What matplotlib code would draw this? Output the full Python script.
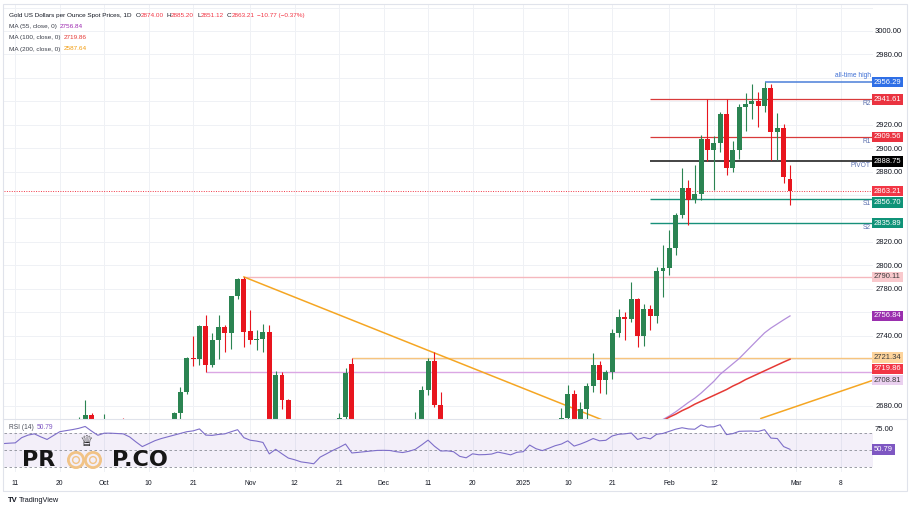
import numpy as np
import pandas as pd
import matplotlib
matplotlib.use("Agg")
import matplotlib.pyplot as plt
import matplotlib.transforms as mtransforms
from matplotlib.patches import Circle, Rectangle

plt.rcParams['font.family'] = ['Liberation Sans', 'DejaVu Sans']

W, H = 912, 513

# ---------------- data ----------------
dates = pd.bdate_range('2024-09-09', '2025-02-28')

opens = [2497, 2506, 2516, 2512, 2558, 2578, 2582, 2570, 2559, 2587, 2622, 2628, 2657, 2657, 2672, 2658,
         2634, 2662, 2657, 2656, 2653, 2643, 2622, 2608, 2630, 2657, 2649, 2662, 2674, 2692, 2721, 2720,
         2748, 2715, 2736, 2747, 2742, 2774, 2788,
         2744, 2736, 2737, 2743, 2659, 2706, 2685, 2618, 2598, 2573, 2565, 2563, 2613, 2632, 2650, 2671,
         2716, 2625, 2633, 2636, 2639,
         2643, 2640, 2643, 2650, 2631, 2633, 2660, 2694, 2718, 2681, 2648, 2652, 2646, 2586, 2594, 2622,
         2612, 2617, 2615, 2634, 2621, 2606,
         2624, 2625, 2658, 2640, 2635, 2648, 2661, 2670, 2690, 2663, 2677, 2697, 2715, 2702, 2709, 2742,
         2756, 2754, 2771, 2740, 2763, 2757, 2795,
         2798, 2815, 2843, 2866, 2856, 2861, 2908, 2898, 2904, 2929, 2883, 2898, 2935, 2938, 2940, 2936,
         2951, 2914, 2917, 2874]
highs = [2507, 2518, 2529, 2560, 2586, 2589, 2582, 2600, 2596, 2625, 2634, 2664, 2671, 2685, 2674, 2665,
         2673, 2668, 2665, 2670, 2658, 2644, 2627, 2632, 2661, 2666, 2666, 2675, 2696, 2722, 2740, 2749,
         2758, 2742, 2758, 2749, 2774, 2789, 2790.11,
         2762, 2745, 2750, 2749, 2710, 2709, 2686, 2627, 2617, 2580, 2574, 2616, 2639, 2652, 2674, 2712,
         2721.34, 2638, 2649, 2645, 2665,
         2652, 2650, 2657, 2654, 2644, 2675, 2697, 2721, 2726, 2692, 2662, 2655, 2660, 2626, 2632, 2626,
         2620, 2620, 2638, 2637, 2625, 2627,
         2628, 2664, 2666, 2650, 2663, 2665, 2678, 2698, 2694, 2683, 2700, 2725, 2718, 2711, 2746, 2763,
         2760, 2786, 2772, 2767, 2766, 2799, 2817,
         2830, 2845, 2883, 2873, 2886, 2911, 2942, 2910, 2931, 2942, 2906, 2938, 2947, 2955, 2948,
         2956.29, 2955, 2930, 2921, 2885.2]
lows = [2485, 2500, 2500, 2511, 2557, 2575, 2560, 2546, 2555, 2584, 2615, 2624, 2651, 2656, 2643, 2624,
        2625, 2644, 2643, 2635, 2632, 2605, 2603, 2604, 2627, 2640, 2636, 2654, 2668, 2690, 2714, 2715,
        2708.81, 2713, 2720, 2726, 2729, 2771, 2730,
        2733, 2728, 2726, 2652, 2644, 2677, 2610, 2590, 2572, 2536, 2560, 2561, 2606, 2622, 2642, 2664,
        2605, 2620, 2630, 2628, 2637,
        2622, 2634, 2640, 2625, 2614, 2631, 2652, 2689, 2679, 2643, 2642, 2630, 2584, 2583, 2584, 2602,
        2607, 2612, 2610, 2616, 2597, 2600,
        2620, 2624, 2636, 2615, 2632, 2645, 2656, 2664, 2656, 2660, 2665, 2692, 2691, 2690, 2703, 2739,
        2736, 2752, 2730, 2731, 2745, 2751, 2773,
        2792, 2809, 2840, 2834, 2853, 2856, 2889, 2864, 2897, 2877, 2880, 2891, 2915, 2925, 2918,
        2931, 2890, 2890, 2870, 2851.12]
closes = [2506, 2516, 2512, 2558, 2578, 2582, 2570, 2559, 2587, 2622, 2628, 2657, 2657, 2672, 2658, 2634,
          2662, 2657, 2656, 2653, 2643, 2622, 2608, 2630, 2657, 2649, 2662, 2674, 2692, 2721, 2720, 2748,
          2715, 2736, 2747, 2742, 2774, 2788, 2743,
          2736, 2737, 2743, 2659, 2706, 2685, 2618, 2598, 2573, 2565, 2563, 2613, 2632, 2650, 2670, 2708,
          2625, 2633, 2636, 2639, 2643,
          2640, 2643, 2650, 2631, 2633, 2660, 2694, 2718, 2681, 2648, 2652, 2646, 2586, 2594, 2622, 2612,
          2617, 2615, 2634, 2621, 2606, 2624,
          2625, 2658, 2640, 2635, 2648, 2661, 2670, 2690, 2663, 2677, 2697, 2715, 2702, 2709, 2742, 2756,
          2754, 2771, 2740, 2763, 2757, 2795, 2798,
          2815, 2843, 2866, 2856, 2861, 2908, 2898, 2904, 2929, 2883, 2898, 2935, 2938, 2940, 2936, 2951,
          2914, 2917, 2875, 2863.21]

rsi = [57.5, 58, 58.4, 64.5, 67.5, 69, 65.5, 62.4, 67, 71.5, 72.8, 74, 75.5, 77.7, 72.3, 67.3,
       69.8, 69.8, 69.4, 69, 65.4, 59.5, 54, 57.5, 61, 63.5, 65.5, 67.5, 69.5, 71.5, 72.5, 74.8, 67.5,
       67.2, 68.3, 69, 71.5, 73.9, 64.5,
       61.5, 60.5, 58.9, 45.4, 50.8, 45.5, 40.5, 38.5, 36, 35, 33.8, 41.6, 45.5, 49.5, 53, 57, 46.5,
       47.2, 48, 48.8, 49.5,
       49.6, 49.4, 48, 47, 48.5, 50.8, 56, 61.6, 54.5, 48.8, 49, 48, 42.5, 40.8, 45.5, 44.4, 44.6, 45.2,
       47.5, 46, 44.3, 47.3,
       48, 55.8, 51.5, 49.3, 52, 55, 57, 60.8, 54.6, 57, 60, 63.5, 60.8, 61.4, 66.5, 68.5, 69, 70, 62.4,
       64.7, 63.1, 68.5, 69.5,
       72, 74.5, 76.2, 74.8, 74.4, 79.5, 77, 77.3, 79.7, 68.1, 69.3, 72, 72.2, 72.3, 71.9, 73.9, 64,
       63.5, 54, 50.79]

ma_start = '2025-01-31'
ma55_tail = [2668.5, 2671.5, 2675, 2679, 2683, 2686.6, 2691, 2696, 2701, 2707, 2711.5, 2716, 2720.5,
             2726, 2731.5, 2737, 2742.4, 2746.5, 2750, 2753.5, 2756.84]
ma100_tail = [2667.5, 2670.5, 2673, 2676, 2678.5, 2681.5, 2684, 2686.5, 2689, 2691.5, 2694, 2697,
              2699.5, 2702.5, 2705, 2707.5, 2710, 2712.5, 2715, 2717.5, 2719.86]
ma200_last = 2587.64

tick_labels = ['11', '20', 'Oct', '10', '21', 'Nov', '12', '21', 'Dec', '11', '20', '2025', '10', '21',
               'Feb', '12']
tick_dates = ['2024-09-11', '2024-09-20', '2024-10-01', '2024-10-10', '2024-10-21', '2024-11-01',
              '2024-11-12', '2024-11-21', '2024-12-02', '2024-12-11', '2024-12-20', '2025-01-01',
              '2025-01-10', '2025-01-21', '2025-02-03', '2025-02-12']
future_tick_labels = ['Mar', '8']
future_tick_offsets = [1, 8]   # bars after the last bar

price_ticks = list(range(2680, 3021, 20))

pivot_names = ['R2', 'R1', 'PIVOT', 'S1', 'S2']
pivot_values = [2941.61, 2909.56, 2888.75, 2856.70, 2835.89]
pivot_colors = ['#d83a3a', '#d83a3a', '#111111', '#17907a', '#17907a']
pivot_start = '2025-01-29'
ath_value, ath_start = 2956.29, '2025-02-24'

hl_values = [2790.11, 2721.34, 2708.81]
hl_starts = ['2024-10-31', '2024-11-25', '2024-10-23']
hl_colors = ['#f5b8be', '#f7c47e', '#dba7e4']

trend_down_dates = ['2024-10-31', '2025-01-20']
trend_down_values = [2790.11, 2666.9]
trend_up_anchor = ('2025-02-24', 2670.4)
trend_up_far = (13, 2701.8)   # bars after last bar, price

last_close = 2863.21
header_ohlc = [('O', '2874.00'), ('H', '2885.20'), ('L', '2851.12'), ('C', '2863.21')]
header_change = '\u221210.77 (\u22120.37%)'

# ---------------- helpers ----------------
N = len(dates) - 1
def pos(d):
    return dates.get_loc(pd.Timestamp(d))

GREEN = '#2b8452'
RED = '#e8151e'
GRID = '#eff1f5'
TXT = '#131722'

fig = plt.figure(figsize=(W / 100, H / 100), dpi=100)
fig.patch.set_facecolor('white')

def fx(px): return px / W
def fy(py): return 1 - py / H

XMIN, XMAX = 0.22, 137.07
ax = fig.add_axes([fx(4), fy(418.5), fx(873) - fx(4), fy(4) - fy(418.5)])
axr = fig.add_axes([fx(4), fy(472), fx(873) - fx(4), fy(420) - fy(472)])

tick_pos = [pos(d) for d in tick_dates] + [N + o for o in future_tick_offsets]
all_tick_labels = tick_labels + future_tick_labels

# right-side price labels (computed first so covered tick labels can be dropped)
labels = [(ath_value, '#2f6fe6', 'white'),
          (pivot_values[0], '#ea3340', 'white'),
          (pivot_values[1], '#ea3340', 'white'),
          (pivot_values[2], '#000000', 'white'),
          (last_close, '#f23645', 'white'),
          (pivot_values[3], '#0f9378', 'white'),
          (pivot_values[4], '#0f9378', 'white'),
          (hl_values[0], '#f9c9cd', '#3a3a3a'),
          (ma55_tail[-1], '#9a2fae', 'white'),
          (hl_values[1], '#fdd49c', '#3a3a3a'),
          (ma100_tail[-1], '#f23645', 'white'),
          (hl_values[2], '#ead0ef', '#3a3a3a')]
labels.sort(key=lambda t: -t[0])
placed = []
prev = None
gap = 9.6
for v, fc, tc in labels:
    p = v if (prev is None or prev - v >= gap) else prev - gap
    placed.append((v, p, fc, tc))
    prev = p

def tick_text(v):
    if v > 3000:
        return ''
    if any(abs(v - p) < 8.5 for _, p, _, _ in placed):
        return ''
    return f'{v:.2f}'

# ---------------- main pane ----------------
ax.set_xlim(XMIN, XMAX)
ax.set_ylim(2669.3, 3023.0)
for s in ax.spines.values():
    s.set_visible(False)
ax.set_xticks(tick_pos)
ax.set_xticklabels([])
ax.set_yticks(price_ticks)
ax.set_yticklabels([tick_text(v) for v in price_ticks])
ax.yaxis.tick_right()
ax.tick_params(axis='both', length=0)
ax.tick_params(axis='y', labelsize=5.5, labelcolor=TXT, pad=1.5)
ax.grid(True, color=GRID, lw=0.7, zorder=0)
ax.set_axisbelow(True)

idx = np.arange(len(dates))
o = np.array(opens, float); h = np.array(highs, float)
l = np.array(lows, float); c = np.array(closes, float)
cols = np.where(c >= o, GREEN, RED)

# horizontal levels
ax.hlines(hl_values, [pos(d) for d in hl_starts], XMAX, colors=hl_colors, lw=1.0, zorder=2)
ax.hlines(pivot_values, pos(pivot_start), XMAX, colors=pivot_colors,
          lw=[0.9, 0.9, 1.1, 1.0, 1.0], zorder=2)
ax.hlines(ath_value, pos(ath_start), XMAX, colors='#4a7fd8', lw=1.1, zorder=2)
ax.axhline(last_close, color='#f23645', lw=0.7, ls=(0, (1, 1.5)), zorder=1.5)

# trend lines
ax.plot([pos(d) for d in trend_down_dates], trend_down_values, color='#f5a623', lw=1.1, zorder=2.2)
ax.axline((pos(trend_up_anchor[0]), trend_up_anchor[1]), (N + trend_up_far[0], trend_up_far[1]),
          color='#f5a623', lw=1.1, zorder=2.2)

# candles
ax.vlines(idx, l, h, colors=cols, lw=0.8, zorder=3)
body_bot = np.minimum(o, c)
body_h = np.maximum(np.abs(c - o), 0.8)
ax.bar(idx, body_h, bottom=body_bot, width=0.78, color=cols, linewidth=0, zorder=4)

# moving averages
ma_idx = np.arange(pos(ma_start), N + 1)
ax.plot(ma_idx, ma55_tail, color='#b48fdb', lw=0.9, zorder=2.5)
ax.plot(ma_idx, ma100_tail, color='#e53935', lw=1.1, zorder=2.5)

# level annotations
for name, v in zip(pivot_names, pivot_values):
    ax.text(XMAX - 0.35, v - 0.9, name, ha='right', va='top', fontsize=4.8, color='#5a6fae', zorder=5)
ax.text(XMAX - 0.3, ath_value + 2.5, 'all-time high', ha='right', va='bottom', fontsize=4.8,
        color='#3f6fd4', zorder=5)

blend = mtransforms.blended_transform_factory(ax.transAxes, ax.transData)
for v, p, fc, tc in placed:
    ax.text(1.0012, p, f'{v:.2f}', transform=blend, ha='left', va='center', fontsize=5.5,
            color=tc, zorder=6, clip_on=False,
            bbox=dict(boxstyle='square,pad=0.22', fc=fc, ec='none'))

# ---------------- RSI pane ----------------
axr.set_xlim(XMIN, XMAX)
axr.set_ylim(24.1, 85.3)
for s in axr.spines.values():
    s.set_visible(False)
axr.axhspan(30, 70, color='#7e57c2', alpha=0.09, lw=0, zorder=1)
for lev in (70, 50, 30):
    axr.axhline(lev, color='#8a8d96', lw=0.6, ls=(0, (3, 3)), zorder=2)
axr.plot(idx, rsi, color='#7e6fc9', lw=0.8, zorder=3)
axr.set_xticks(tick_pos)
axr.set_xticklabels(all_tick_labels)
axr.set_yticks([75])
axr.set_yticklabels(['75.00'])
axr.yaxis.tick_right()
axr.tick_params(axis='both', length=0)
axr.tick_params(axis='x', labelsize=4.9, labelcolor=TXT, pad=5.5)
axr.tick_params(axis='y', labelsize=5.5, labelcolor=TXT, pad=1.5)
axr.grid(True, axis='x', color=GRID, lw=0.7, zorder=0)
axr.set_axisbelow(True)
axr.text(1.0012, rsi[-1], f'{rsi[-1]:.2f}',
         transform=mtransforms.blended_transform_factory(axr.transAxes, axr.transData),
         ha='left', va='center', fontsize=5.5, color='white', clip_on=False, zorder=6,
         bbox=dict(boxstyle='square,pad=0.22', fc='#7e57c2', ec='none'))

# ---------------- overlay (texts, logo, frame) ----------------
ov = fig.add_axes([0, 0, 1, 1], zorder=10)
ov.set_xlim(0, W)
ov.set_ylim(H, 0)
ov.axis('off')

ov.add_patch(Rectangle((3.5, 3.5), 904, 487, fill=False, ec='#e0e3eb', lw=0.8))
ov.plot([3.5, 907.5], [419.2, 419.2], color='#e0e3eb', lw=0.8)

renderer = fig.canvas.get_renderer()

def seq(x, y, parts, fs, gap=0):
    for s, colr in parts:
        t = ov.text(x, y, s, color=colr, fontsize=fs, ha='left', va='center')
        x += t.get_window_extent(renderer).width + gap
    return x

HF = 4.6
x = seq(9, 15.5, [('Gold US Dollars per Ounce Spot Prices, 1D', TXT)], HF)
x += 4
for letter, val in header_ohlc:
    x = seq(x, 15.5, [(letter, TXT), (val, '#f23645')], HF)
    x += 3
seq(x, 15.5, [(header_change, '#f23645')], HF)

ma_rows = [('MA (55, close, 0)', f'{ma55_tail[-1]:.2f}', '#9c27b0', 26.5),
           ('MA (100, close, 0)', f'{ma100_tail[-1]:.2f}', '#e53935', 37.8),
           ('MA (200, close, 0)', f'{ma200_last:.2f}', '#f29b0c', 49.0)]
for lab, val, colr, yy in ma_rows:
    xx = seq(9, yy, [(lab, '#3b3f4a')], HF)
    seq(xx + 3, yy, [(val, colr)], HF)

xx = seq(9, 427.5, [('RSI (14)', '#4a4e59')], 4.8)
seq(xx + 3, 427.5, [(f'{rsi[-1]:.2f}', '#7e57c2')], 4.8)

# watermark logo
ov.text(22, 460.5, 'PR', fontsize=16, fontweight='bold', family='DejaVu Sans', color='#161616',
        ha='left', va='center')
for cx in (76.0, 93.0):
    ov.add_patch(Circle((cx, 460), 7.6, fill=False, ec='#f1c386', lw=2.0))
    ov.add_patch(Circle((cx, 460), 3.4, fill=False, ec='#f1c386', lw=1.0))
ov.text(86, 441.5, '\u2655', fontsize=11, family='DejaVu Sans', color='#111111', ha='center', va='center')
ov.text(112, 460.5, 'P.CO', fontsize=16, fontweight='bold', family='DejaVu Sans', color='#161616',
        ha='left', va='center')

# TradingView logo
ov.text(8, 501, 'TV', fontsize=5.5, fontweight='bold', color=TXT, ha='left', va='center')
ov.text(19, 501, 'TradingView', fontsize=5.3, color=TXT, ha='left', va='center')

fig.savefig('out.png', dpi=100, facecolor='white')
